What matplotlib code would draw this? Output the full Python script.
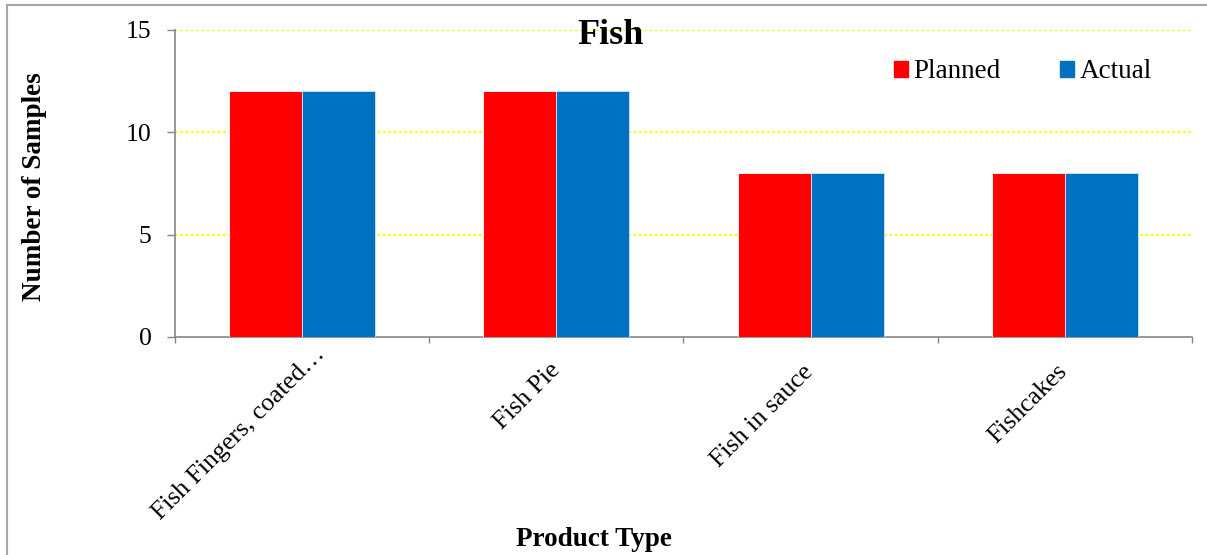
import matplotlib
matplotlib.use("Agg")
import matplotlib.pyplot as plt
from matplotlib.patches import Rectangle, Patch
from matplotlib.transforms import ScaledTranslation

plt.rcParams['font.family'] = ['Liberation Serif', 'DejaVu Serif']

categories = ['Fish Fingers, coated…', 'Fish Pie', 'Fish in sauce', 'Fishcakes']
planned = [12, 12, 8, 8]
actual = [12, 12, 8, 8]
yticks = [0, 5, 10, 15]

RED = '#FF0000'
BLUE = '#0070C0'
AXIS = '#868686'

fig = plt.figure(figsize=(12.07, 5.55), dpi=100)
ax = fig.add_axes([0.145, 0.393, 0.8425, 0.553])

x = range(len(categories))
w = 0.287
ax.bar([i - w / 2 for i in x], planned, width=w, color=RED, edgecolor='white', linewidth=0.6, zorder=3, label='Planned')
ax.bar([i + w / 2 for i in x], actual, width=w, color=BLUE, edgecolor='#d0e4f4', linewidth=0.6, zorder=3, label='Actual')

ax.set_xlim(-0.5, len(categories) - 0.5)
ax.set_ylim(0, 15)
ax.set_yticks(yticks)
ax.set_yticklabels([str(v) for v in yticks], fontsize=18.5)
ax.tick_params(axis='y', length=5.8, width=1, color=AXIS, pad=11)

# category boundaries carry the tick marks, centres carry the labels
ax.set_xticks([i - 0.5 for i in range(len(categories) + 1)])
ax.set_xticklabels([])
ax.tick_params(axis='x', which='major', length=4.5, width=1, color=AXIS, direction='out')
ax.set_xticks(list(x), minor=True)
ax.set_xticklabels(categories, minor=True, rotation=45, ha='right', va='top', fontsize=18.5)
ax.tick_params(axis='x', which='minor', length=0, pad=17)

# nudge the slanted labels a little right; the truncated first one sits higher
shifts = [(27, 17), (8, 2), (7, 0), (7, 0)]
for lab, (dx, dy) in zip(ax.get_xticklabels(minor=True), shifts):
    lab.set_transform(lab.get_transform() + ScaledTranslation(dx / 100, dy / 100, fig.dpi_scale_trans))

for s in ['top', 'right']:
    ax.spines[s].set_visible(False)
for s in ['left', 'bottom']:
    ax.spines[s].set_color(AXIS)
    ax.spines[s].set_linewidth(1.2)

for v in yticks[1:]:
    ax.axhline(v, color='#FFFF00', linestyle=(0, (1.2, 1.2)), linewidth=1.6, zorder=1)

fig.text(611 / 1207, 1 - 44 / 555, 'Fish', ha='center', va='baseline', fontsize=26, fontweight='bold')
fig.text(594 / 1207, 1 - 546 / 555, 'Product Type', ha='center', va='baseline', fontsize=19.5, fontweight='bold')
fig.text(35 / 1207, 1 - 187 / 555, 'Number of Samples', ha='center', va='center', rotation=90, fontsize=19.5, fontweight='bold')

handles = [Patch(color=RED), Patch(color=BLUE)]
fig.legend(handles, ['Planned', 'Actual'], loc='center', bbox_to_anchor=(1023 / 1207, 1 - 72 / 555),
           ncol=2, frameon=False, fontsize=19.5, handlelength=0.52, handleheight=0.52,
           handletextpad=0.2, columnspacing=2.2)

# outer chart border (only top and left fall inside the image)
fig.patches.append(Rectangle((7 / 1207, -0.1), 1.2, 1 - 5 / 555 + 0.1, transform=fig.transFigure,
                             fill=False, edgecolor='#A6A6A6', linewidth=1.5))

fig.savefig('out.png', dpi=100)
